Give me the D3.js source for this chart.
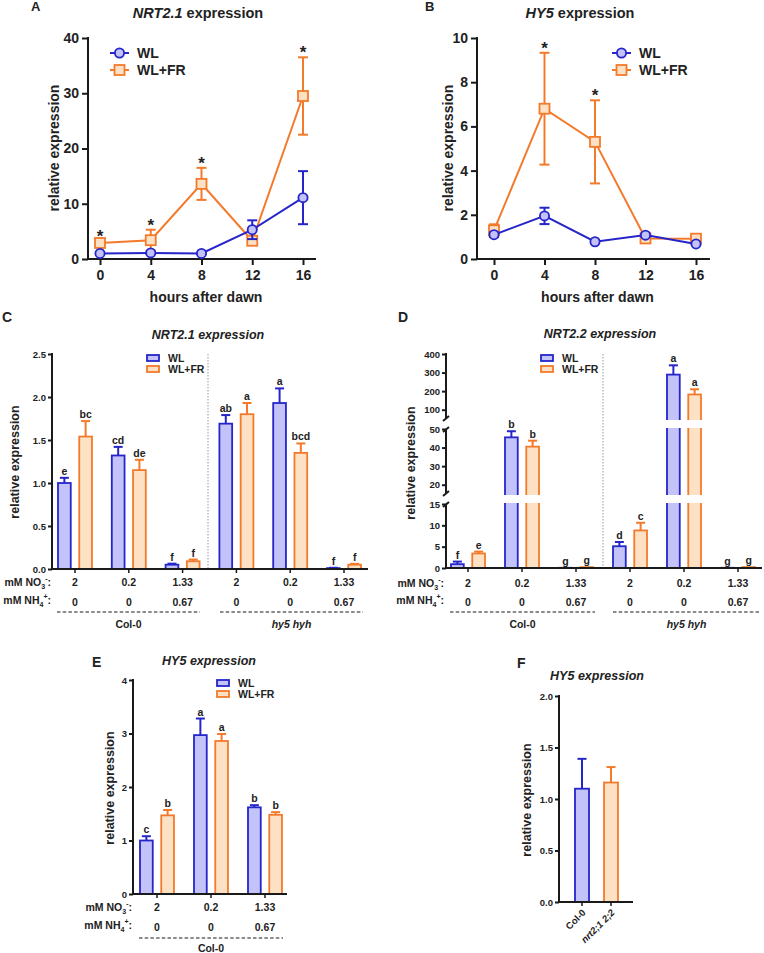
<!DOCTYPE html>
<html><head><meta charset="utf-8">
<script src="https://cdn.jsdelivr.net/npm/d3@7"></script>
<style>
body{margin:0;background:#fff}
text{font-family:"Liberation Sans",Arial,sans-serif;font-weight:bold;fill:#222}
</style>
</head><body>
<svg id="c" width="764" height="953" xmlns="http://www.w3.org/2000/svg"></svg>
<script>
// ---------------- DATA ----------------
const hours = [0, 4, 8, 12, 16];
const seriesNames = ["WL", "WL+FR"];

// Panel A: NRT2.1 time course
const aWL    = [1.0, 1.1, 1.0, 5.3, 11.1];
const aWLErr = [0.15, 0.15, 0.1, 1.7, 4.8];
const aFR    = [2.9, 3.4, 13.6, 3.3, 29.5];
const aFRErr = [0.35, 1.9, 2.9, 0.6, 7.0];
const aSig   = [1, 1, 1, 0, 1];
const aTicks = [0, 10, 20, 30, 40];

// Panel B: HY5 time course
const bWL    = [1.1, 1.95, 0.78, 1.08, 0.68];
const bWLErr = [0.1, 0.37, 0.06, 0.07, 0.05];
const bFR    = [1.3, 6.8, 5.3, 0.93, 0.92];
const bFRErr = [0.27, 2.53, 1.88, 0.06, 0.06];
const bSig   = [0, 1, 1, 0, 0];
const bTicks = [0, 2, 4, 6, 8, 10];

// Nitrogen conditions (C, D)
const no3Labels = ["2", "0.2", "1.33", "2", "0.2", "1.33"];
const nh4Labels = ["0", "0", "0.67", "0", "0", "0.67"];
const genotypes = ["Col-0", "hy5 hyh"];

// Panel C: NRT2.1
const cWL     = [1.0, 1.32, 0.05, 1.69, 1.93, 0.01];
const cWLErr  = [0.06, 0.10, 0.012, 0.10, 0.17, 0.004];
const cFR     = [1.54, 1.15, 0.09, 1.80, 1.35, 0.05];
const cFRErr  = [0.18, 0.12, 0.02, 0.13, 0.11, 0.01];
const cWLLet  = ["e", "cd", "f", "ab", "a", "f"];
const cFRLet  = ["bc", "de", "f", "a", "bcd", "f"];
const cTicks  = [0, 0.5, 1.0, 1.5, 2.0, 2.5];

// Panel D: NRT2.2 (broken axis)
const dWL     = [0.9, 45.5, 0.05, 5.1, 289, 0.05];
const dWLErr  = [0.6, 3.3, 0, 1.0, 50, 0];
const dFR     = [3.4, 40.5, 0.2, 8.8, 182, 0.2];
const dFRErr  = [0.45, 3.2, 0, 1.8, 28, 0];
const dWLLet  = ["f", "b", "g", "d", "a", "g"];
const dFRLet  = ["e", "b", "g", "c", "a", "g"];
const dTicksLow  = [0, 5, 10, 15];
const dTicksMid  = [20, 30, 40, 50];
const dTicksHigh = [100, 200, 300, 400];

// Panel E: HY5 under N conditions (Col-0)
const eNO3    = ["2", "0.2", "1.33"];
const eNH4    = ["0", "0", "0.67"];
const eWL     = [1.0, 2.97, 1.62];
const eWLErr  = [0.08, 0.31, 0.04];
const eFR     = [1.47, 2.86, 1.48];
const eFRErr  = [0.10, 0.13, 0.05];
const eWLLet  = ["c", "a", "b"];
const eFRLet  = ["b", "a", "b"];
const eTicks  = [0, 1, 2, 3, 4];

// Panel F: HY5 in genotypes
const fCats   = ["Col-0", "nrt2;1 2;2"];
const fVals   = [1.10, 1.16];
const fErr    = [0.29, 0.15];
const fTicks  = [0, 0.5, 1.0, 1.5, 2.0];

// ---------------- STYLE ----------------
const BLUE = "#2525c9", BLUEF = "#c3c3fa", ORANGE = "#f47a2b", ORANGEF = "#fde1c4";
const INK = "#1a1a1a";
const svg = d3.select("#c");
const col = s => s === "WL" ? BLUE : ORANGE;
const fil = s => s === "WL" ? BLUEF : ORANGEF;

function styleAxis(g, fs) {
  g.select(".domain").remove();
  g.selectAll(".tick line").attr("stroke", INK).attr("stroke-width", 2);
  g.selectAll(".tick text").attr("font-size", fs).attr("fill", "#222")
    .attr("font-family", "Liberation Sans, Arial, sans-serif").attr("font-weight", "bold");
}
function txt(g, x, y, s, fs, anchor, extra) {
  const t = g.append("text").attr("x", x).attr("y", y).attr("font-size", fs)
    .attr("text-anchor", anchor || "middle").text(s);
  if (extra) extra(t);
  return t;
}
function italicTitle(g, x, y, gene, rest, fs, allItalic) {
  const t = g.append("text").attr("x", x).attr("y", y).attr("font-size", fs).attr("text-anchor", "middle");
  t.append("tspan").attr("font-style", "italic").text(gene);
  t.append("tspan").attr("font-style", allItalic ? "italic" : "normal").text(rest);
}
function yLabel(g, x, y, fs) {
  g.append("text").attr("transform", `translate(${x},${y}) rotate(-90)`)
    .attr("text-anchor", "middle").attr("dy", "0.35em").attr("font-size", fs).text("relative expression");
}

// ---------------- LINE CHARTS ----------------
function lineChart(o) {
  const g = svg.append("g");
  const x = d3.scaleLinear().domain([0, 16]).range(o.xr);
  const y = d3.scaleLinear().domain([0, o.ymax]).range([o.yb, o.yt]);

  g.append("g").attr("transform", `translate(${o.ax},0)`)
    .call(d3.axisLeft(y).tickValues(o.ticks).tickSize(6).tickSizeOuter(0).tickPadding(3))
    .call(a => styleAxis(a, 14));
  g.append("g").attr("transform", `translate(0,${o.yb})`)
    .call(d3.axisBottom(x).tickValues(hours).tickSize(6).tickSizeOuter(0).tickPadding(5))
    .call(a => styleAxis(a, 14));
  g.append("line").attr("x1", o.ax).attr("x2", o.ax).attr("y1", o.yt - 1).attr("y2", o.yb + 1)
    .attr("stroke", INK).attr("stroke-width", 2);
  g.append("line").attr("x1", o.ax - 1).attr("x2", o.xe).attr("y1", o.yb).attr("y2", o.yb)
    .attr("stroke", INK).attr("stroke-width", 2);

  const series = [
    { s: "WL+FR", v: o.fr, e: o.frErr },
    { s: "WL", v: o.wl, e: o.wlErr }
  ];
  const line = d3.line().x((d, i) => x(hours[i])).y(d => y(d));
  series.forEach(sr => {
    const c = col(sr.s);
    g.append("path").datum(sr.v).attr("d", line).attr("fill", "none")
      .attr("stroke", c).attr("stroke-width", 2);
    sr.v.forEach((v, i) => {
      const cx = x(hours[i]);
      const lo = y(Math.max(0, v - sr.e[i])), hi = y(v + sr.e[i]);
      g.append("line").attr("x1", cx).attr("x2", cx).attr("y1", lo).attr("y2", hi).attr("stroke", c).attr("stroke-width", 2);
      [lo, hi].forEach(yy => g.append("line").attr("x1", cx - 5).attr("x2", cx + 5).attr("y1", yy).attr("y2", yy).attr("stroke", c).attr("stroke-width", 2));
    });
    sr.v.forEach((v, i) => marker(g, sr.s, x(hours[i]), y(v)));
  });
  // significance
  o.sig.forEach((s, i) => {
    if (!s) return;
    txt(g, x(hours[i]), y(o.fr[i] + o.frErr[i]) + 1, "*", 17);
  });
  // legend
  seriesNames.forEach((s, i) => {
    const ly = o.ly + i * 17;
    g.append("line").attr("x1", o.lx).attr("x2", o.lx + 19).attr("y1", ly).attr("y2", ly).attr("stroke", col(s)).attr("stroke-width", 2);
    marker(g, s, o.lx + 9.5, ly);
    txt(g, o.lx + 27, ly, s, 14, "start", t => t.attr("dy", "0.36em"));
  });
  txt(g, o.lx0, 11, o.letter, 13, "start");
  italicTitle(g, o.tx, 18, o.gene, " expression", 14.5, false);
  yLabel(g, o.ylx, 148, 14);
  txt(g, (o.ax + o.xe) / 2 + 4, 302, "hours after dawn", 14);
}
function marker(g, s, cx, cy) {
  if (s === "WL") {
    g.append("circle").attr("cx", cx).attr("cy", cy).attr("r", 4.6)
      .attr("fill", BLUEF).attr("stroke", BLUE).attr("stroke-width", 1.8);
  } else {
    g.append("rect").attr("x", cx - 5).attr("y", cy - 5).attr("width", 10).attr("height", 10)
      .attr("fill", ORANGEF).attr("stroke", ORANGE).attr("stroke-width", 1.8);
  }
}

lineChart({ xr: [100, 303], ax: 88, xe: 316, yt: 38, yb: 259, ymax: 40, ticks: aTicks,
  wl: aWL, wlErr: aWLErr, fr: aFR, frErr: aFRErr, sig: aSig,
  lx: 110, ly: 53, lx0: 31, letter: "A", tx: 198, gene: "NRT2.1", ylx: 54 });
lineChart({ xr: [494, 696], ax: 477, xe: 710, yt: 38, yb: 259, ymax: 10, ticks: bTicks,
  wl: bWL, wlErr: bWLErr, fr: bFR, frErr: bFRErr, sig: bSig,
  lx: 612, ly: 53, lx0: 425, letter: "B", tx: 580, gene: "HY5", ylx: 448 });

// ---------------- BAR CHARTS ----------------
function ionLabel(g, x, y, base, sub, sup) {
  const t = g.append("text").attr("x", x).attr("y", y).attr("font-size", 10.5).attr("text-anchor", "end");
  t.append("tspan").text(base);
  t.append("tspan").attr("font-size", 7).attr("dy", 3).text(sub);
  t.append("tspan").attr("font-size", 7).attr("dy", -8).text(sup);
  t.append("tspan").attr("dy", 5).text(":");
}

function barChart(o) {
  const g = svg.append("g");
  const n = o.vals[0].length;
  const xg = d3.scalePoint().domain(d3.range(n)).range(o.xr);
  const xs = d3.scaleBand().domain(seriesNames).range([-17, 17]).paddingInner(0.4);
  const y = o.y;
  const y0 = y(0);

  if (o.div) {
    g.append("line").attr("x1", o.div).attr("x2", o.div).attr("y1", o.yt).attr("y2", y0)
      .attr("stroke", "#999").attr("stroke-width", 1).attr("stroke-dasharray", "1.5,1.5");
  }
  const data = [];
  seriesNames.forEach((s, si) => d3.range(n).forEach(i =>
    data.push({ s, i, v: o.vals[si][i], e: o.errs[si][i], l: o.lets[si][i] })));

  data.forEach(d => {
    const bx = xg(d.i) + xs(d.s), bw = xs.bandwidth(), top = y(d.v);
    if (d.e > 0) {
      const cx = bx + bw / 2, et = y(d.v + d.e);
      g.append("line").attr("x1", cx).attr("x2", cx).attr("y1", top).attr("y2", et).attr("stroke", col(d.s)).attr("stroke-width", 2);
      g.append("line").attr("x1", cx - 4.5).attr("x2", cx + 4.5).attr("y1", et).attr("y2", et).attr("stroke", col(d.s)).attr("stroke-width", 2);
    }
    g.append("rect").attr("x", bx).attr("y", top).attr("width", bw).attr("height", Math.max(0, y0 - top))
      .attr("fill", fil(d.s)).attr("stroke", col(d.s)).attr("stroke-width", 1.8);
    if (o.gaps) o.gaps.forEach(gp => {
      if (d.v > gp.above) g.append("rect").attr("x", bx - 2).attr("y", gp.y1).attr("width", bw + 4)
        .attr("height", gp.y2 - gp.y1).attr("fill", "#fff");
    });
    if (d.l) txt(g, bx + bw / 2, y(d.v + d.e) - 3, d.l, 10.5);
  });

  // axes
  g.append("line").attr("x1", o.ax - 1).attr("x2", o.xe).attr("y1", y0).attr("y2", y0).attr("stroke", INK).attr("stroke-width", 2);
  d3.range(n).forEach(i => g.append("line").attr("x1", xg(i)).attr("x2", xg(i)).attr("y1", y0).attr("y2", y0 + 4).attr("stroke", INK).attr("stroke-width", 1.5));
  o.yaxis(g);

  // legend
  seriesNames.forEach((s, i) => {
    const ly = o.ly + i * 11;
    g.append("rect").attr("x", o.lx).attr("y", ly - 3).attr("width", 12).attr("height", 6)
      .attr("fill", fil(s)).attr("stroke", col(s)).attr("stroke-width", 1.8);
    txt(g, o.lx + 21, ly, s, 10.5, "start", t => t.attr("dy", "0.36em"));
  });

  // condition rows
  ionLabel(g, o.rlx, o.r1, "mM NO", "3", "-");
  ionLabel(g, o.rlx, o.r2, "mM NH", "4", "+");
  o.no3.forEach((s, i) => txt(g, xg(i), o.r1, s, 10.5));
  o.nh4.forEach((s, i) => txt(g, xg(i), o.r2 + 2, s, 10.5));
  o.geno.forEach(gn => {
    g.append("line").attr("x1", gn.x1).attr("x2", gn.x2).attr("y1", o.dl).attr("y2", o.dl)
      .attr("stroke", INK).attr("stroke-width", 1.2).attr("stroke-dasharray", "3.5,2.2");
    txt(g, (gn.x1 + gn.x2) / 2, o.dl + o.gdy, gn.name, 10.5, "middle", t => { if (gn.it) t.attr("font-style", "italic"); });
  });

  txt(g, o.lx0, o.ly0, o.letter, 14, "start");
  italicTitle(g, o.tx, o.ty, o.gene, " expression", 12.5, true);
  yLabel(g, o.ylx, o.yly, 12.5);
}

// Panel C
const yC = d3.scaleLinear().domain([0, 2.5]).range([569, 354]);
barChart({
  vals: [cWL, cFR], errs: [cWLErr, cFRErr], lets: [cWLLet, cFRLet],
  xr: [75, 344], y: yC, yt: 354, ax: 52, xe: 368, div: 208,
  yaxis: g => g.append("g").attr("transform", "translate(52,0)")
    .call(d3.axisLeft(yC).tickValues(cTicks).tickFormat(d3.format(".1f")).tickSize(4).tickSizeOuter(0).tickPadding(2))
    .call(a => styleAxis(a, 9.5))
    .call(a => a.append("line").attr("y1", 353).attr("y2", 570).attr("stroke", INK).attr("stroke-width", 2)),
  lx: 147, ly: 358, no3: no3Labels, nh4: nh4Labels, rlx: 51, r1: 586, r2: 604, dl: 612, gdy: 16,
  geno: [{ x1: 57, x2: 200, name: genotypes[0] }, { x1: 220, x2: 363, name: genotypes[1], it: true }],
  lx0: 2, ly0: 322, letter: "C", tx: 208, ty: 339, gene: "NRT2.1", ylx: 15, yly: 462
});

// Panel D (broken axis)
const dSegs = [
  { lo: 0, hi: 15, ticks: dTicksLow, r: [568, 504] },
  { lo: 15, hi: 50, ticks: dTicksMid, r: [494, 429] },
  { lo: 50, hi: 400, ticks: dTicksHigh, r: [419, 354] }
].map(s => ({ ...s, sc: d3.scaleLinear().domain([s.lo, s.hi]).range(s.r) }));
const yD = v => { for (const s of dSegs) if (v <= s.hi) return s.sc(v); return dSegs[2].sc(v); };
barChart({
  vals: [dWL, dFR], errs: [dWLErr, dFRErr], lets: [dWLLet, dFRLet],
  xr: [468, 738], y: yD, yt: 354, ax: 446, xe: 762, div: 603,
  gaps: [{ above: 15, y1: 495, y2: 503 }, { above: 50, y1: 420, y2: 428 }],
  yaxis: g => {
    dSegs.forEach((s, k) => {
      g.append("g").attr("transform", "translate(446,0)")
        .call(d3.axisLeft(s.sc).tickValues(s.ticks).tickSize(4).tickSizeOuter(0).tickPadding(2))
        .call(a => styleAxis(a, 9.5));
      const top = k === 2 ? s.r[1] - 1 : s.r[1] + 1;
      const bot = k === 0 ? s.r[0] + 1 : s.r[0] - 1;
      g.append("line").attr("x1", 446).attr("x2", 446).attr("y1", top).attr("y2", bot).attr("stroke", INK).attr("stroke-width", 2);
      if (k > 0) g.append("line").attr("x1", 443).attr("x2", 449).attr("y1", s.r[0] + 2).attr("y2", s.r[0] - 3).attr("stroke", INK).attr("stroke-width", 2);
      if (k < 2) g.append("line").attr("x1", 443).attr("x2", 449).attr("y1", s.r[1] + 3).attr("y2", s.r[1] - 2).attr("stroke", INK).attr("stroke-width", 2);
    });
  },
  lx: 541, ly: 358, no3: no3Labels, nh4: nh4Labels, rlx: 444, r1: 587, r2: 604, dl: 612, gdy: 16,
  geno: [{ x1: 450, x2: 595, name: genotypes[0] }, { x1: 613, x2: 760, name: genotypes[1], it: true }],
  lx0: 398, ly0: 322, letter: "D", tx: 600, ty: 338, gene: "NRT2.2", ylx: 411, yly: 463
});

// Panel E
const yE = d3.scaleLinear().domain([0, 4]).range([894, 680]);
barChart({
  vals: [eWL, eFR], errs: [eWLErr, eFRErr], lets: [eWLLet, eFRLet],
  xr: [157, 265], y: yE, yt: 680, ax: 133, xe: 287,
  yaxis: g => g.append("g").attr("transform", "translate(133,0)")
    .call(d3.axisLeft(yE).tickValues(eTicks).tickFormat(d3.format("d")).tickSize(4).tickSizeOuter(0).tickPadding(2))
    .call(a => styleAxis(a, 9.5))
    .call(a => a.append("line").attr("y1", 679).attr("y2", 895).attr("stroke", INK).attr("stroke-width", 2)),
  lx: 217, ly: 683, no3: eNO3, nh4: eNH4, rlx: 132, r1: 911, r2: 929, dl: 938, gdy: 14,
  geno: [{ x1: 139, x2: 283, name: genotypes[0] }],
  lx0: 92, ly0: 667, letter: "E", tx: 209, ty: 665, gene: "HY5", ylx: 110, yly: 788
});

// Panel F
(function () {
  const g = svg.append("g");
  const x = d3.scalePoint().domain(fCats).range([582, 611]);
  const y = d3.scaleLinear().domain([0, 2]).range([902, 696]);
  const fcol = [BLUE, ORANGE], ffil = [BLUEF, ORANGEF];
  fCats.forEach((c, i) => {
    const cx = x(c), top = y(fVals[i]), et = y(fVals[i] + fErr[i]);
    g.append("line").attr("x1", cx).attr("x2", cx).attr("y1", top).attr("y2", et).attr("stroke", fcol[i]).attr("stroke-width", 2);
    g.append("line").attr("x1", cx - 4.5).attr("x2", cx + 4.5).attr("y1", et).attr("y2", et).attr("stroke", fcol[i]).attr("stroke-width", 2);
    g.append("rect").attr("x", cx - 7).attr("y", top).attr("width", 14).attr("height", y(0) - top)
      .attr("fill", ffil[i]).attr("stroke", fcol[i]).attr("stroke-width", 1.8);
  });
  g.append("g").attr("transform", "translate(559,0)")
    .call(d3.axisLeft(y).tickValues(fTicks).tickFormat(d3.format(".1f")).tickSize(4).tickSizeOuter(0).tickPadding(2))
    .call(a => styleAxis(a, 9.5));
  g.append("line").attr("x1", 559).attr("x2", 559).attr("y1", 695).attr("y2", 903).attr("stroke", INK).attr("stroke-width", 2);
  g.append("line").attr("x1", 558).attr("x2", 633).attr("y1", 902).attr("y2", 902).attr("stroke", INK).attr("stroke-width", 2);
  fCats.forEach((c, i) => {
    g.append("line").attr("x1", x(c)).attr("x2", x(c)).attr("y1", 902).attr("y2", 906).attr("stroke", INK).attr("stroke-width", 1.5);
    g.append("text").attr("transform", `translate(${x(c) + 2},${911}) rotate(-45)`)
      .attr("text-anchor", "end").attr("font-size", 9.5).attr("dy", "0.35em")
      .attr("font-style", i === 1 ? "italic" : "normal").text(c);
  });
  txt(g, 517, 668, "F", 14, "start");
  italicTitle(g, 597, 680, "HY5", " expression", 12.5, true);
  yLabel(g, 527, 800, 12.5);
})();
</script>
</body></html>
